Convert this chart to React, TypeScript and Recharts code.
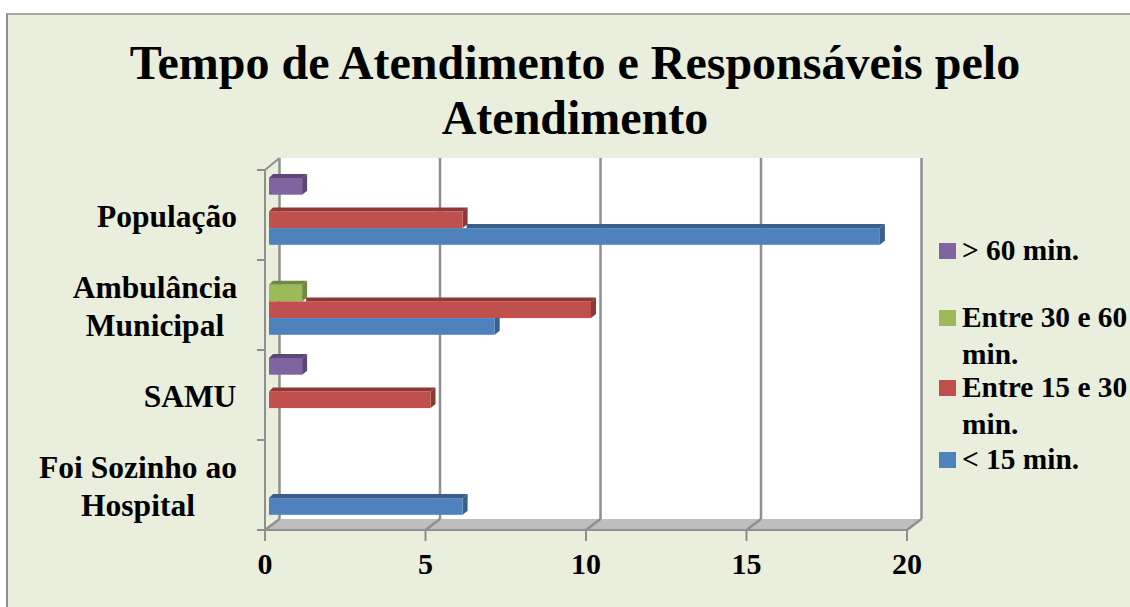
import React from "react";
import { BarChart, Bar, XAxis, YAxis, Legend } from "recharts";

const categories = ["População", "Ambulância Municipal", "SAMU", "Foi Sozinho ao Hospital"];
const under15 = [19, 7, 0, 6];
const from15to30 = [6, 10, 5, 0];
const from30to60 = [0, 1, 0, 0];
const over60 = [1, 0, 1, 0];
const xTicks = [0, 5, 10, 15, 20];

const titleLines = ["Tempo de Atendimento e Responsáveis pelo", "Atendimento"];
const categoryLines = [["População"], ["Ambulância", "Municipal"], ["SAMU"], ["Foi Sozinho ao", "Hospital"]];
const categoryCenters = [167, 155, 190, 138];

const data = categories.map((name, i) => ({
  name,
  over60: over60[i],
  from30to60: from30to60[i],
  from15to30: from15to30[i],
  under15: under15[i],
}));

const series = [
  { key: "over60", name: "> 60 min.", fill: "#8064A2", dark: "#5C4776" },
  { key: "from30to60", name: "Entre 30 e 60 min.", fill: "#9BBB59", dark: "#71893F" },
  { key: "from15to30", name: "Entre 15 e 30 min.", fill: "#C0504D", dark: "#8C3836" },
  { key: "under15", name: "< 15 min.", fill: "#4F81BD", dark: "#3A5F8B" },
];

const W = 1130;
const H = 607;
const BG = "#EAEEDD";
const GRID = "#8F8F8F";
const LEFT = 265;
const RIGHT = 907;
const TOP = 170;
const BOTTOM = 530;
const DEPTH_X = 14.5;
const DEPTH_Y = 11;
const LEGEND_W = 190;
const FONT = "'Liberation Serif', 'Times New Roman', serif";

// back wall, floor and gridlines of the 3D box, sits under the chart svg
const Box3D = () => {
  const unit = (RIGHT - LEFT) / 20;
  const bandTicks = [0, 1, 2, 3, 4].map((i) => TOP + (i * (BOTTOM - TOP)) / 4);
  return (
    <svg width={W} height={H} style={{ position: "absolute", left: 0, top: 0 }}>
      <rect x={LEFT + DEPTH_X} y={158} width={RIGHT - LEFT} height={BOTTOM - DEPTH_Y - 158} fill="#fff" />
      <polygon
        points={`${LEFT},${BOTTOM} ${LEFT + DEPTH_X},${BOTTOM - DEPTH_Y} ${RIGHT + DEPTH_X},${BOTTOM - DEPTH_Y} ${RIGHT},${BOTTOM}`}
        fill="#BEBEBE"
      />
      {xTicks.map((t) => {
        const x = LEFT + t * unit;
        return (
          <g key={t} stroke={GRID} strokeWidth={2.5} fill="none">
            <line x1={x + DEPTH_X} y1={158} x2={x + DEPTH_X} y2={BOTTOM - DEPTH_Y} />
            <line x1={x} y1={BOTTOM} x2={x + DEPTH_X} y2={BOTTOM - DEPTH_Y} />
          </g>
        );
      })}
      <line x1={LEFT} y1={TOP} x2={LEFT + DEPTH_X} y2={158} stroke={GRID} strokeWidth={2} />
      {bandTicks.map((y) => (
        <line key={y} x1={LEFT - 8} y1={y} x2={LEFT} y2={y} stroke={GRID} strokeWidth={2} />
      ))}
    </svg>
  );
};

const Bar3D = (props: any) => {
  const { x, y, width, height, fill, dark, unit, covered } = props;
  if (!width || width <= 0) return null;
  const d = 4;
  const side = 5;
  const left = x + d;
  const top = y - d;
  const right = left + width + 1;
  const bottom = top + height;
  // the bar above hides this one's top edge up to where it ends
  const coverEnd = covered * unit;
  const topStart = covered ? left + coverEnd + side : left;
  const sideTop = covered && coverEnd >= width ? top : top - d;
  return (
    <g>
      {topStart < right + side && (
        <polygon
          points={`${topStart},${top} ${topStart + (covered ? 0 : d)},${top - d} ${right + side},${top - d} ${right},${top}`}
          fill={dark}
        />
      )}
      <polygon
        points={`${right},${top} ${right + side},${sideTop} ${right + side},${bottom - d} ${right},${bottom}`}
        fill={dark}
      />
      <rect x={left} y={top} width={right - left} height={height} fill={fill} />
    </g>
  );
};

const CategoryTick = ({ y, index }: any) => {
  const lines = categoryLines[index];
  const start = y + 12 - ((lines.length - 1) * 38) / 2;
  return (
    <text textAnchor="middle" fontFamily={FONT} fontWeight="bold" fontSize={31.5} fill="#000">
      {lines.map((line, i) => (
        <tspan key={line} x={categoryCenters[index]} y={start + i * 38}>
          {line}
        </tspan>
      ))}
    </text>
  );
};

const legendTops = [232, 299, 369, 441];

const LegendBox = ({ payload }: any) => (
  <div style={{ position: "relative", width: LEGEND_W, height: 260, fontFamily: FONT, fontWeight: "bold", fontSize: 29.4, lineHeight: "37px", color: "#000" }}>
    {(payload || []).map((item: any, i: number) => (
      <div key={item.value} style={{ position: "absolute", left: 0, top: legendTops[i] - 233, width: LEGEND_W }}>
        <span style={{ position: "absolute", left: 0, top: 11, width: 17, height: 16, background: item.color }} />
        <div style={{ marginLeft: 23, width: 168 }}>{item.value}</div>
      </div>
    ))}
  </div>
);

export default function App() {
  return (
    <div style={{ position: "absolute", left: 0, top: 0, width: W, height: H, background: "#fff", overflow: "hidden" }}>
      <div style={{ position: "absolute", left: 6, top: 13, width: W, height: H, background: BG, borderLeft: "2px solid #8E8E8E", borderTop: "2px solid #A8A8A0" }} />
      <div style={{ position: "absolute", left: 0, top: 35, width: 1150, textAlign: "center", fontFamily: FONT, fontWeight: "bold", fontSize: 48, lineHeight: "55px", color: "#000" }}>
        {titleLines.map((line) => (
          <div key={line}>{line}</div>
        ))}
      </div>
      <Box3D />
      <div style={{ position: "absolute", left: 0, top: 0 }}>
        <BarChart
          width={W}
          height={H}
          data={data}
          layout="vertical"
          barSize={16.7}
          barGap={0}
          margin={{ left: 0, right: W - RIGHT - LEGEND_W, top: TOP, bottom: 0 }}
        >
          <XAxis
            type="number"
            domain={[0, 20]}
            ticks={xTicks}
            interval={0}
            height={H - BOTTOM}
            tickSize={11}
            tickMargin={12}
            axisLine={{ stroke: GRID, strokeWidth: 2 }}
            tickLine={{ stroke: GRID, strokeWidth: 2 }}
            tick={{ fontFamily: FONT, fontWeight: "bold", fontSize: 30, fill: "#000" }}
          />
          <YAxis
            type="category"
            dataKey="name"
            width={LEFT}
            interval={0}
            axisLine={{ stroke: GRID, strokeWidth: 2 }}
            tickLine={false}
            tick={<CategoryTick />}
          />
          <Legend
            verticalAlign="top"
            align="right"
            layout="vertical"
            itemSorter={null}
            content={<LegendBox />}
            wrapperStyle={{ position: "absolute", left: 939, top: 233, width: LEGEND_W }}
          />
          {series.map((s, si) => (
            <Bar
              key={s.key}
              dataKey={s.key}
              name={s.name}
              fill={s.fill}
              isAnimationActive={false}
              shape={(p: any) => (
                <Bar3D
                  {...p}
                  dark={s.dark}
                  unit={(RIGHT - LEFT) / 20}
                  covered={si > 0 ? p.payload[series[si - 1].key] : 0}
                />
              )}
            />
          ))}
        </BarChart>
      </div>
    </div>
  );
}
